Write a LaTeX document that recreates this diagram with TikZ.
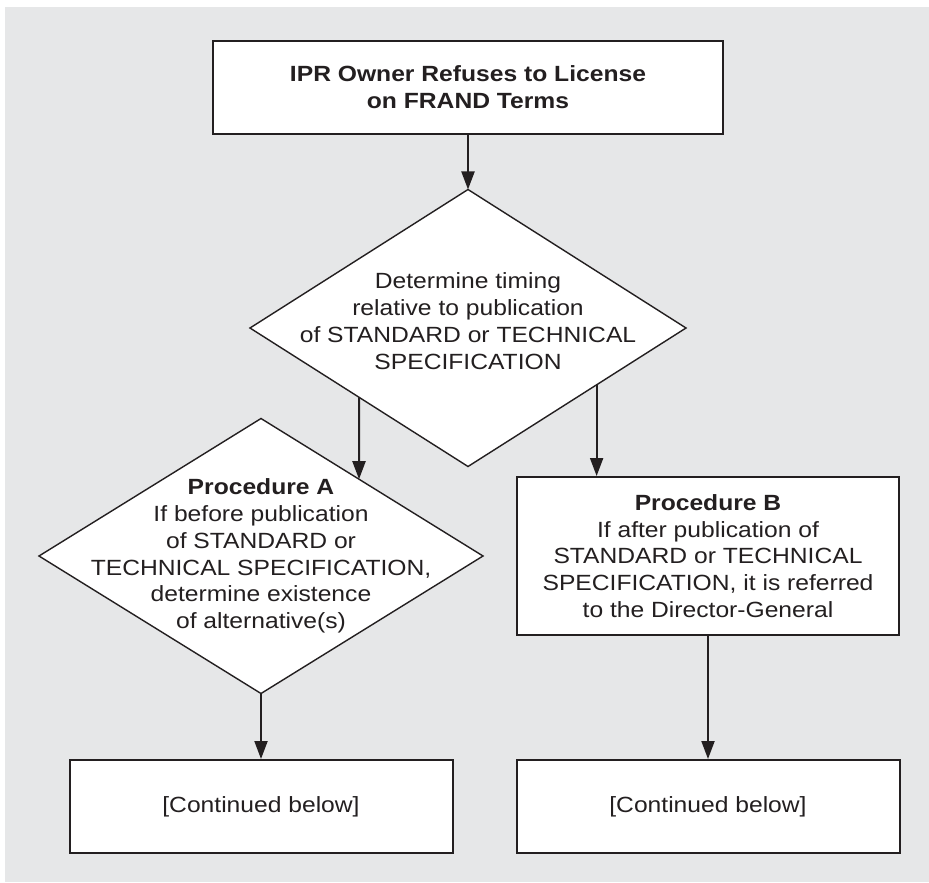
\documentclass[tikz,border=0pt]{standalone}
\usepackage{fontspec}
\setmainfont{Liberation Sans}[FakeStretch=1.12]
\usetikzlibrary{arrows.meta, shapes.geometric, calc}
\definecolor{panel}{HTML}{E6E7E8}
\definecolor{ink}{HTML}{231F20}
\tikzset{
  box/.style={draw=ink, line width=1pt, fill=white, inner sep=0pt, align=center,
    text=ink, font=\fontsize{11}{13.4}\selectfont},
  dia/.style={diamond, draw=ink, line width=0.7pt, fill=white, inner sep=0pt, outer sep=0pt},
  txt/.style={align=center, inner sep=0pt, text=ink, font=\fontsize{11}{13.4}\selectfont},
  flow/.style={->, draw=ink, line width=1pt},
}

\begin{document}
\begin{tikzpicture}[x=0.5pt, y=-0.5pt, >={Triangle[length=9pt, width=6.5pt]}]

        % grey panel
        \fill[white] (0,0) rectangle (929,882);
        \fill[panel] (5,7) rectangle (929,882);

        \node[box, minimum width=255pt, minimum height=46.5pt] (own) at (468,87.5)
          {\textbf{IPR Owner Refuses to License}\\\textbf{on FRAND Terms}};

        \node[dia, minimum width=218pt, minimum height=138.5pt] (time) at (468,328) {};
        \node[txt] (timet) at ([yshift=3.5pt]time.center)
          {Determine timing\\relative to publication\\of STANDARD or TECHNICAL\\SPECIFICATION};

        \node[dia, minimum width=222pt, minimum height=137.5pt] (procA) at (261,556) {};
        \node[txt] (procAt) at (procA.center)
          {\textbf{Procedure A}\\If before publication\\of STANDARD or\\TECHNICAL SPECIFICATION,\\determine existence\\of alternative(s)};

        \node[box, minimum width=191pt, minimum height=79pt] (procB) at (708,556)
          {\textbf{Procedure B}\\If after publication of\\STANDARD or TECHNICAL\\SPECIFICATION, it is referred\\to the Director-General};

        \node[box, minimum width=191.5pt, minimum height=46.5pt] (contA) at (261,806.5) {[Continued below]};
        \node[box, minimum width=191.5pt, minimum height=46.5pt] (contB) at (708,806.5) {[Continued below]};

        % branch points on the lower edges of the timing diamond
        \coordinate (a1) at (time.south west);
        \coordinate (a2) at (a1 |- procA.south);
        \coordinate (b1) at ($(time.east)!.41!(time.south)$);

        \draw [flow] (own.south) -- (time.north);
        \draw [flow] (a1) -- (intersection of a1--a2 and procA.north--procA.east);
        \draw [flow] (b1) -- (b1 |- procB.north);
        \draw [flow] (procA.south) -- (contA.north);
        \draw [flow] (procB.south) -- (contB.north);

\end{tikzpicture}
\end{document}
